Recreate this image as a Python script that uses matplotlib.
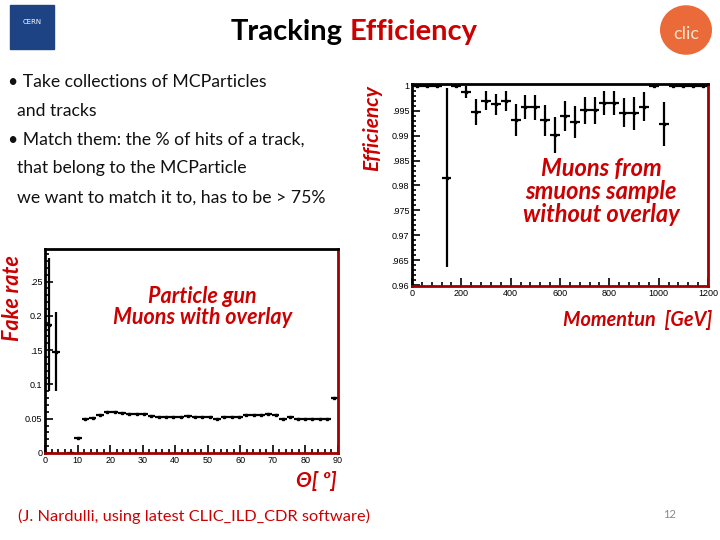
import matplotlib.pyplot as plt
from matplotlib.patches import Rectangle, Circle
from matplotlib.ticker import MultipleLocator, FixedLocator
import numpy as np

RED = '#cc0000'

# efficiency vs momentum (right plot), 40 GeV bins
mom_centres = list(range(20, 1200, 40))
eff = [1, 1, 1, 0.9816, 1, 0.9987, 0.9948, 0.9970, 0.9963, 0.9970,
       0.9931, 0.9958, 0.9957, 0.9931, 0.9902, 0.9939, 0.9928, 0.9951, 0.9951, 0.9965,
       0.9965, 0.9946, 0.9945, 0.9958, 1, 0.9924, 1, 1, 1, 1]
eff_err = [0, 0, 0, 0.018, 0, 0.0012, 0.0026, 0.0019, 0.0021, 0.0020,
           0.0032, 0.0024, 0.0025, 0.0031, 0.0036, 0.0030, 0.0032, 0.0027, 0.0027, 0.0024,
           0.0024, 0.0029, 0.0033, 0.0029, 0, 0.0044, 0, 0, 0, 0]

# fake rate vs theta (left plot), 2.25 degree bins
theta_centres = [1.125 + 2.25 * i for i in range(40)]
fake = [0.187, 0.148, np.nan, 0.0, 0.022, 0.050, 0.051, 0.055, 0.060, 0.060,
        0.059, 0.057, 0.057, 0.057, 0.054, 0.052, 0.053, 0.053, 0.052, 0.054,
        0.052, 0.052, 0.052, 0.050, 0.053, 0.053, 0.053, 0.056, 0.055, 0.056,
        0.057, 0.055, 0.050, 0.053, 0.050, 0.049, 0.050, 0.050, 0.049, 0.080]
fake_err = [0.097, 0.057, 0, 0, 0.001, 0.001, 0.001, 0.001, 0.001, 0.001,
            0.001, 0.001, 0.001, 0.001, 0.001, 0.001, 0.001, 0.001, 0.001, 0.001,
            0.001, 0.001, 0.001, 0.001, 0.001, 0.001, 0.001, 0.001, 0.001, 0.001,
            0.001, 0.001, 0.001, 0.001, 0.001, 0.001, 0.001, 0.001, 0.001, 0.001]

bullets = ["\u2022 Take collections of MCParticles",
           "  and tracks",
           "\u2022 Match them: the % of hits of a track,",
           "  that belong to the MCParticle",
           "  we want to match it to, has to be > 75%"]

W, H = 720, 540
fig = plt.figure(figsize=(7.2, 5.4), dpi=100)


def px(x, y):
    return x / W, 1 - y / H


def root_frame(ax):
    for s in ['top', 'left']:
        ax.spines[s].set_linewidth(2)
        ax.spines[s].set_color('black')
    for s in ['bottom', 'right']:
        ax.spines[s].set_linewidth(2)
        ax.spines[s].set_color('#a00000')
    ax.tick_params(which='both', direction='in', labelsize=6.5, width=1.2, pad=2)
    ax.tick_params(which='major', length=6)
    ax.tick_params(which='minor', length=3)
    for lab in ax.get_xticklabels() + ax.get_yticklabels():
        lab.set_family('Liberation Sans')


# right plot
ax1 = fig.add_axes([412 / W, 1 - 286 / H, 296 / W, 202 / H])
ax1.errorbar(mom_centres, eff, yerr=eff_err, xerr=20, fmt='s', ms=2,
             color='black', ecolor='black', elinewidth=1.6, capsize=0)
ax1.set_xlim(0, 1200)
ax1.set_ylim(0.9598, 1.0004)
ax1.xaxis.set_major_locator(MultipleLocator(200))
ax1.xaxis.set_minor_locator(MultipleLocator(40))
yt1 = [0.96, 0.965, 0.97, 0.975, 0.98, 0.985, 0.99, 0.995, 1.0]
ax1.yaxis.set_major_locator(FixedLocator(yt1))
ax1.set_yticklabels(['0.96', '.965', '0.97', '.975', '0.98', '.985', '0.99', '.995', '1'])
ax1.yaxis.set_minor_locator(MultipleLocator(0.001))
root_frame(ax1)
ax1.text(0.64, 0.47, "Muons from\nsmuons sample\nwithout overlay", transform=ax1.transAxes,
         ha='center', va='center', color=RED, fontsize=17, family='Lato',
         weight='bold', style='italic', linespacing=1.0)

# left plot
ax2 = fig.add_axes([45 / W, 1 - 453 / H, 293 / W, 204 / H])
ax2.errorbar(theta_centres, fake, yerr=fake_err, xerr=1.125, fmt='s', ms=2,
             color='black', ecolor='black', elinewidth=1.6, capsize=0)
ax2.set_xlim(0, 90)
ax2.set_ylim(0, 0.2976)
ax2.xaxis.set_major_locator(MultipleLocator(10))
ax2.xaxis.set_minor_locator(MultipleLocator(2))
yt2 = [0, 0.05, 0.1, 0.15, 0.2, 0.25]
ax2.yaxis.set_major_locator(FixedLocator(yt2))
ax2.set_yticklabels(['0', '0.05', '0.1', '.15', '0.2', '.25'])
ax2.yaxis.set_minor_locator(MultipleLocator(0.01))
root_frame(ax2)
ax2.text(0.538, 0.716, "Particle gun\nMuons with overlay", transform=ax2.transAxes,
         ha='center', va='center', color=RED, fontsize=15.5, family='Lato',
         weight='bold', style='italic', linespacing=1.0)

# axis titles as slide text
fig.text(*px(372, 128), "Efficiency", rotation=90, ha='center', va='center',
         color=RED, fontsize=15, family='Lato', weight='bold', style='italic')
fig.text(*px(13, 298), "Fake rate", rotation=90, ha='center', va='center',
         color=RED, fontsize=15.5, family='Lato', weight='bold', style='italic')
fig.text(*px(638, 320), "Momentun  [GeV]", ha='center', va='center',
         color=RED, fontsize=14.3, family='Lato', weight='bold', style='italic')
fig.text(*px(316, 481), "\u0398[ \u00ba]", ha='center', va='center',
         color=RED, fontsize=15, family=['Lato', 'DejaVu Sans'], weight='bold', style='italic')

# title
fig.text(*px(343, 32), "Tracking", ha='right', va='center', fontsize=21,
         family='Lato', weight='bold', color='black')
fig.text(*px(350, 32), "Efficiency", ha='left', va='center', fontsize=21,
         family='Lato', weight='bold', color=RED)

# bullet text
for i, line in enumerate(bullets):
    fig.text(*px(8, 82 + i * 28.8), line, ha='left', va='center', fontsize=12.7,
             family='Lato', color='#111111')

fig.text(*px(18, 516), "(J. Nardulli, using latest CLIC_ILD_CDR software)", ha='left',
         va='center', fontsize=11.8, family='Lato', color=RED)
fig.text(*px(670, 514), "12", ha='center', va='center', fontsize=8,
         family='Lato', color='#888888')

# logos (simple stand-ins)
cern = Rectangle(px(10, 49), 44 / W, 44 / H, transform=fig.transFigure,
                 facecolor='#1d4384', edgecolor='#1d4384')
fig.patches.append(cern)
fig.text(*px(32, 22), "CERN", ha='center', va='center', fontsize=5, color='white',
         family='DejaVu Sans')
clic = Circle((0, 0), 1, facecolor='#ea6a3a', edgecolor='none')
ax_logo = fig.add_axes([660 / W, 1 - 56 / H, 52 / W, 52 / H])
ax_logo.add_patch(clic)
ax_logo.set_xlim(-1, 1)
ax_logo.set_ylim(-1.05, 1.05)
ax_logo.axis('off')
ax_logo.text(0, -0.15, "clic", ha='center', va='center', fontsize=13, color='#fbe3c8',
             family='Lato')

fig.savefig('out.png', dpi=100)
